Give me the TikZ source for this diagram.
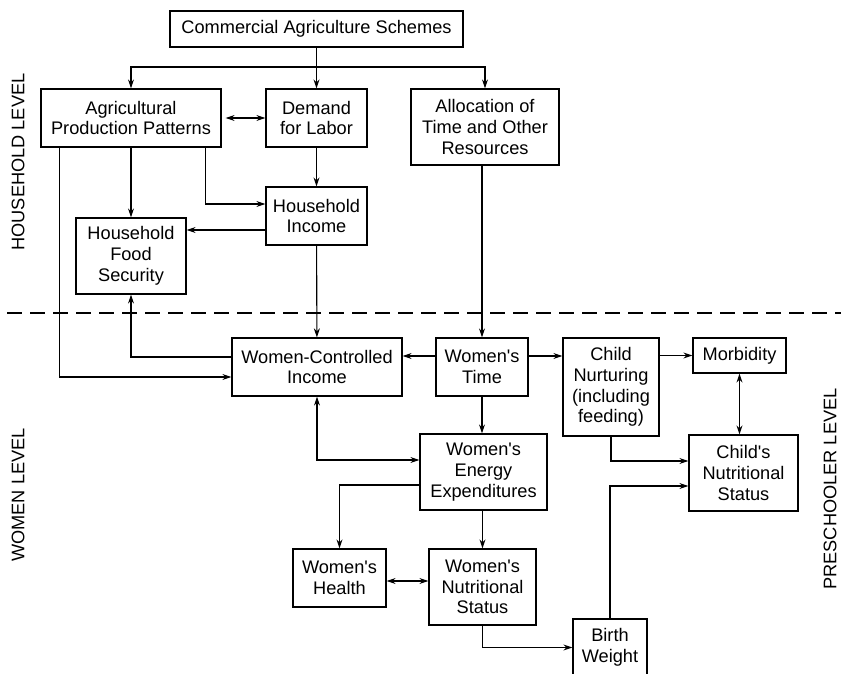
\documentclass[tikz,border=0pt]{standalone}
\usepackage{fontspec}
\setmainfont{Liberation Sans}[Ligatures=TeXOff]
\usetikzlibrary{arrows.meta}

\tikzset{
    box/.style={draw, line width=1.2pt, align=center, inner sep=1pt,
        font=\fontsize{18.2}{20.8}\selectfont},
    lvl/.style={rotate=90, font=\fontsize{18.2}{20.8}\selectfont},
    link/.style={line width=1.1pt}
}

\begin{document}
\begin{tikzpicture}[x=1pt, y=-1pt, >={Stealth[length=9pt,width=6pt]}]
    \useasboundingbox (0,0) rectangle (841,674);

    % household level
    \node[box, minimum width=293, minimum height=36] (cas) at (316.5,29) {Commercial Agriculture Schemes};
    \node[box, minimum width=180, minimum height=58] (agri) at (131,118) {Agricultural\\Production Patterns};
    \node[box, minimum width=101, minimum height=58] (dem) at (316.5,118) {Demand\\for Labor};
    \node[box, minimum width=148, minimum height=76] (alloc) at (485,127) {Allocation of\\Time and Other\\Resources};
    \node[box, minimum width=101, minimum height=58] (hinc) at (316.5,216) {Household\\Income};
    \node[box, minimum width=110, minimum height=76] (hfs) at (131,256) {Household\\Food\\Security};

    % women and preschooler level
    \node[box, minimum width=170, minimum height=58] (wci) at (317,367) {Women-Controlled\\Income};
    \node[box, minimum width=92, minimum height=58] (wtime) at (482,367) {Women's\\Time};
    \node[box, minimum width=96, minimum height=98] (nurt) at (611,387) {Child\\Nurturing\\(including\\feeding)};
    \node[box, minimum width=93, minimum height=35] (morb) at (739.5,355.5) {Morbidity};
    \node[box, minimum width=109, minimum height=76] (cns) at (743.5,473) {Child's\\Nutritional\\Status};
    \node[box, minimum width=127, minimum height=76] (energy) at (483.5,472) {Women's\\Energy\\Expenditures};
    \node[box, minimum width=93, minimum height=58] (health) at (339.5,578) {Women's\\Health};
    \node[box, minimum width=107, minimum height=76] (wns) at (482.5,587) {Women's\\Nutritional\\Status};
    \node[box, minimum width=74, minimum height=57] (bw) at (610,647.5) {Birth\\Weight};

    % level labels
    \node[lvl] (hhlvl) at (18,162) {HOUSEHOLD LEVEL};
    \node[lvl] (wlvl) at (18,495) {WOMEN LEVEL};
    \node[lvl] (plvl) at (830,489) {PRESCHOOLER LEVEL};

    \coordinate (bar) at (0,67);
    \coordinate (divL) at (7,313);
    \coordinate (divR) at (841,313);
    \draw[link, dash pattern=on 15pt off 8pt] (divL) -- (divR);

    % connectors
    \draw[link, ->] (cas) -- (dem);
    \draw[link, ->] (cas.south |- bar) -| (agri.north);
    \draw[link, ->] (cas.south |- bar) -| (alloc.north);
    \draw[link, <->, shorten <=4pt] (agri) -- (dem);
    \draw[link, ->] (dem) -- (hinc);
    \draw[link, ->] (agri) -- (hfs);
    \draw[link, ->] ([xshift=19pt]agri.south west) |- ([yshift=-10pt]wci.west);
    \draw[link, ->] ([xshift=-16pt]agri.south east) |- ([yshift=12pt]hinc.west);
    \draw[link, ->] ([yshift=-14pt]hinc.west) -- ([yshift=-14pt]hinc.west -| hfs.east);
    \draw[link, ->] (hinc) -- (wci);
    \draw[link, ->] ([yshift=10pt]wci.west) -| (hfs.south);
    \draw[link, ->] (alloc.south -| wtime.north) -- (wtime.north);
    \draw[link, ->] ([yshift=11pt]wtime.west) -- ([yshift=11pt]wtime.west -| wci.east);
    \draw[link, ->] ([yshift=11pt]wtime.east) -- ([yshift=11pt]wtime.east -| nurt.west);
    \draw[link, ->] (nurt.east |- morb.west) -- (morb.west);
    \draw[link, <->] (morb.south) -- (morb.south |- cns.north);
    \draw[link, ->] (wtime) -- (wtime |- energy.north);
    \draw[link, <->] (wci.south) |- ([yshift=12pt]energy.west);
    \draw[link, ->] ([yshift=-13pt]energy.west) -| (health.north);
    \draw[link, ->] (energy.south -| wns.north) -- (wns.north);
    \draw[link, <->] ([yshift=-3pt]health.east) -- ([yshift=-3pt]health.east -| wns.west);
    \draw[link, ->] (wns.south) |- (bw.west);
    \draw[link, ->] (bw.north) |- ([yshift=-13pt]cns.west);
    \draw[link, ->] (nurt.south) |- ([yshift=12pt]cns.west);
\end{tikzpicture}
\end{document}
